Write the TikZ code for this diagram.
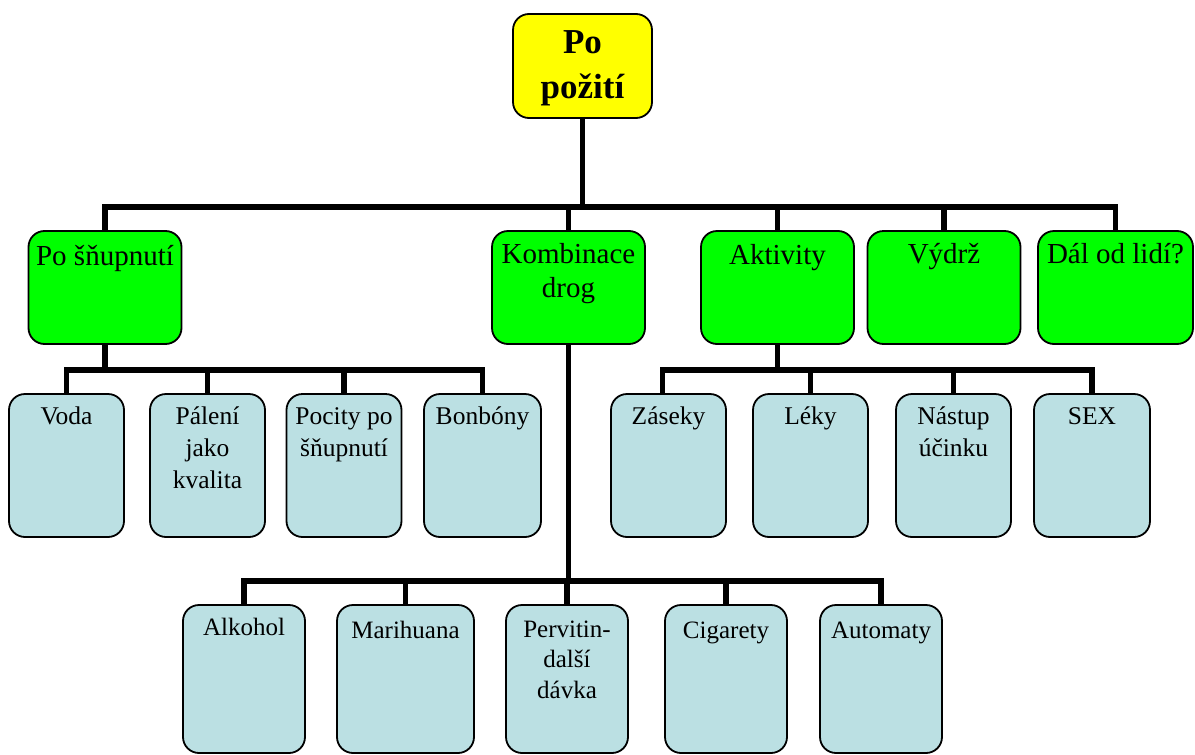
\documentclass[tikz,border=0pt]{standalone}
\usepackage{fontspec}
\setmainfont{Liberation Serif}
\definecolor{rootyellow}{HTML}{FFFF00}
\definecolor{topicgreen}{HTML}{00FF00}
\definecolor{leafblue}{HTML}{BBE0E3}
\begin{document}
\begin{tikzpicture}[x=1pt,y=-1pt,
  box/.style={draw=black, line width=1.8pt, rounded corners=16pt, inner sep=0pt},
  rootbox/.style={box, fill=rootyellow, minimum width=139pt, minimum height=104pt},
  topic/.style={box, fill=topicgreen, minimum width=153pt, minimum height=113pt},
  leaf/.style={box, fill=leafblue, minimum width=115pt, minimum height=143pt},
  drug/.style={box, fill=leafblue, minimum width=122pt, minimum height=148pt},
  conn/.style={draw=black, line width=5.5pt},
  % multi-line labels sit on the baseline of their last line
  roottxt/.style={anchor=base, align=center, inner sep=0pt, font=\fontsize{35}{45}\selectfont\bfseries},
  topictxt/.style={anchor=base, align=center, inner sep=0pt, font=\fontsize{29}{34}\selectfont},
  leaftxt/.style={anchor=base, align=center, inner sep=0pt, font=\fontsize{25.5}{32}\selectfont},
  drugtxt/.style={anchor=base, align=center, inner sep=0pt, font=\fontsize{25}{30.5}\selectfont},
]
\useasboundingbox (0,0) rectangle (1195,755);

% bus lines of the three levels
\coordinate (bus1) at (0,207);
\coordinate (bus2) at (0,370);
\coordinate (bus3) at (0,581);

% root
\node[rootbox] (root) at (582.5,66) {};

% first level
\node[topic] (sn)    at (105,287.5) {};
\node[topic] (komb)  at (568.5,287.5) {};
\node[topic] (akt)   at (777.5,287.5) {};
\node[topic] (vydrz) at (944,287.5) {};
\node[topic, minimum width=155pt] (dal) at (1115.5,287.5) {};

% second level
\node[leaf] (voda) at (66.5,465.5) {};
\node[leaf] (pal)  at (207.5,465.5) {};
\node[leaf] (poc)  at (344,465.5) {};
\node[leaf, minimum width=117pt] (bon) at (482.5,465.5) {};
\node[leaf] (zas)  at (668.5,465.5) {};
\node[leaf] (lek)  at (810.5,465.5) {};
\node[leaf] (nas)  at (953.5,465.5) {};
\node[leaf, minimum width=116pt] (sex) at (1092,465.5) {};

% third level
\node[drug] (alk) at (244,679) {};
\node[drug, minimum width=137pt] (mar) at (405.5,679) {};
\node[drug] (per) at (567,679) {};
\node[drug] (cig) at (726,679) {};
\node[drug] (aut) at (881,679) {};

% connectors
\draw[conn] (root.south) -- (root.south |- bus1);
\draw[conn] (sn.north) -- (sn.north |- bus1) -- (dal.north |- bus1) -- (dal.north);
\foreach \n in {komb,akt,vydrz} \draw[conn] (\n.north) -- (\n.north |- bus1);

\draw[conn] (sn.south) -- (sn.south |- bus2);
\draw[conn] (voda.north) -- (voda.north |- bus2) -- (bon.north |- bus2) -- (bon.north);
\foreach \n in {pal,poc} \draw[conn] (\n.north) -- (\n.north |- bus2);

\coordinate (zastop) at ([xshift=-6pt]zas.north);
\draw[conn] (akt.south) -- (akt.south |- bus2);
\draw[conn] (zastop) -- (zastop |- bus2) -- (sex.north |- bus2) -- (sex.north);
\foreach \n in {lek,nas} \draw[conn] (\n.north) -- (\n.north |- bus2);

\draw[conn] (komb.south) -- (komb.south |- bus3);
\draw[conn] (alk.north) -- (alk.north |- bus3) -- (aut.north |- bus3) -- (aut.north);
\foreach \n in {mar,per,cig} \draw[conn] (\n.north) -- (\n.north |- bus3);

% labels
\node[roottxt] (root-t) at (582.5,98) {Po\\požití};

\node[topictxt] (sn-t)    at (105,265)    {Po šňupnutí};
\node[topictxt] (komb-t)  at (568.5,297)  {Kombinace\\drog};
\node[topictxt] (akt-t)   at (777.5,264)  {Aktivity};
\node[topictxt] (vydrz-t) at (944,263)    {Výdrž};
\node[topictxt] (dal-t)   at (1115.5,263) {Dál od lidí?};

\node[leaftxt] (voda-t) at (66.5,424)  {Voda};
\node[leaftxt] (pal-t)  at (207.5,488) {Pálení\\jako\\kvalita};
\node[leaftxt] (poc-t)  at (344,456)   {Pocity po\\šňupnutí};
\node[leaftxt] (bon-t)  at (482.5,424) {Bonbóny};
\node[leaftxt] (zas-t)  at (668.5,424) {Záseky};
\node[leaftxt] (lek-t)  at (810.5,424) {Léky};
\node[leaftxt] (nas-t)  at (953.5,456) {Nástup\\účinku};
\node[leaftxt] (sex-t)  at (1092,424)  {SEX};

\node[drugtxt] (alk-t) at (244,635)   {Alkohol};
\node[drugtxt] (mar-t) at (405.5,638) {Marihuana};
\node[drugtxt] (per-t) at (567,698)   {Pervitin-\\další\\dávka};
\node[drugtxt] (cig-t) at (726,638)   {Cigarety};
\node[drugtxt] (aut-t) at (881,638)   {Automaty};
\end{tikzpicture}
\end{document}
